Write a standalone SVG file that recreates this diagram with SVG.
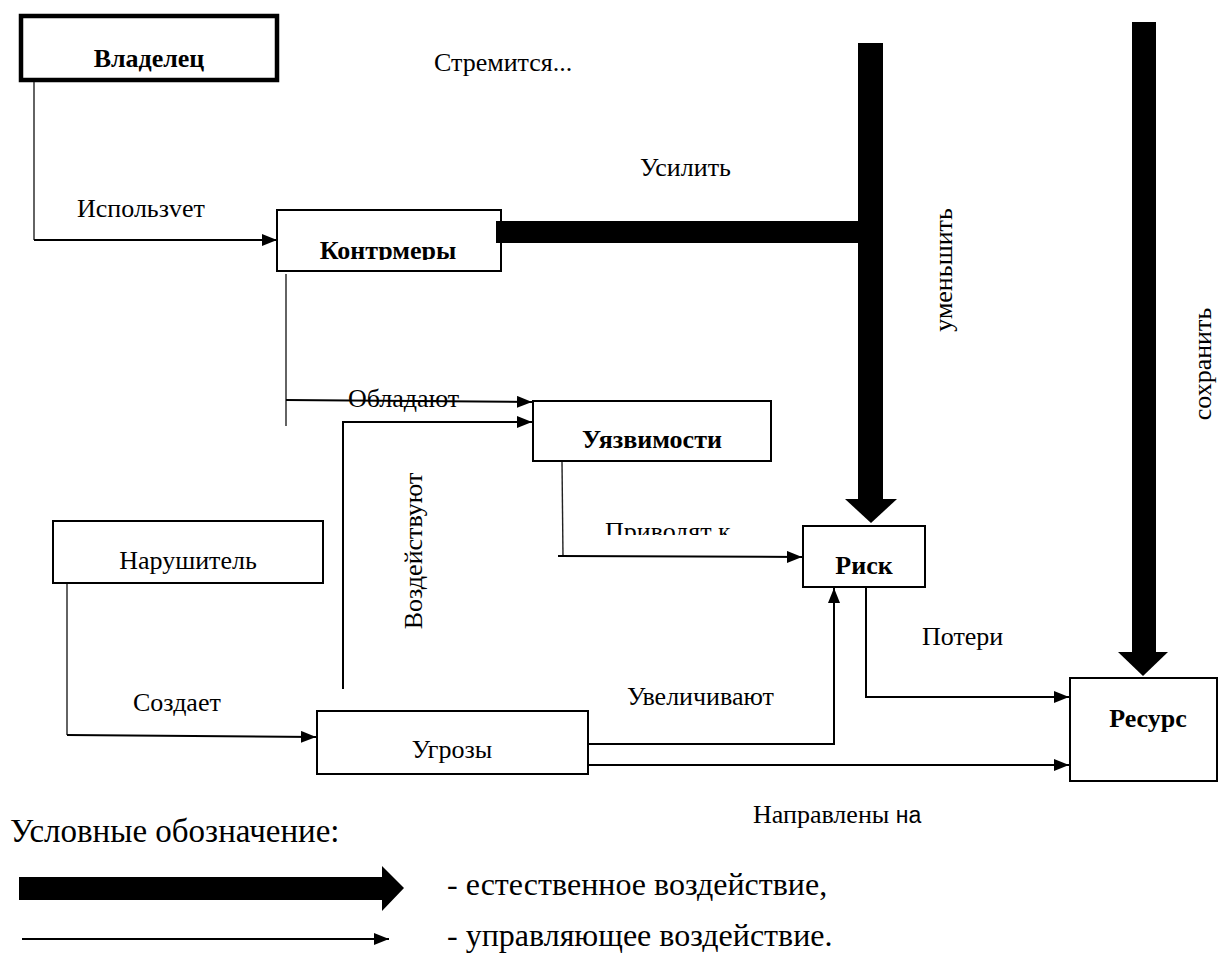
<svg xmlns="http://www.w3.org/2000/svg" width="1220" height="960" viewBox="0 0 1220 960">
<style>
  text { font-family: "Liberation Serif", "Times New Roman", serif; fill: #000; }
  .lbl { font-size: 26px; }
  .bold { font-size: 26px; font-weight: bold; }
  .leg { font-size: 32px; }
  .box { fill: #fff; stroke: #000; stroke-width: 2; }
  .ln { fill: none; stroke: #000; stroke-width: 2; }
  .thin { fill: none; stroke: #222; stroke-width: 1.4; }
  .thick { fill: #000; stroke: none; }
</style>
<defs>
  <marker id="ah" markerWidth="15" markerHeight="12" refX="15" refY="6" orient="auto" markerUnits="userSpaceOnUse">
    <path d="M0,0 L15,6 L0,12 z" fill="#000"/>
  </marker>
  <clipPath id="clipK"><rect x="270" y="200" width="240" height="60"/></clipPath>
  <clipPath id="clipP"><rect x="590" y="500" width="160" height="35"/></clipPath>
</defs>
<rect width="1220" height="960" fill="#fff"/>

<g id="owner">
  <rect x="21" y="16" width="256" height="64" fill="#fff" stroke="#000" stroke-width="4.5"/>
  <text class="bold" x="149" y="67" text-anchor="middle">Владелец</text>
</g>
<g id="countermeasures">
  <rect class="box" x="277" y="210" width="224" height="61"/>
  <text class="bold" x="388" y="259" text-anchor="middle" clip-path="url(#clipK)">Контрмеры</text>
</g>
<g id="vulnerabilities">
  <rect class="box" x="533" y="401" width="238" height="60"/>
  <text class="bold" x="652" y="448" text-anchor="middle">Уязвимости</text>
</g>
<g id="intruder">
  <rect class="box" x="53" y="521" width="270" height="62"/>
  <text class="lbl" x="188" y="569" text-anchor="middle">Нарушитель</text>
</g>
<g id="threats">
  <rect class="box" x="317" y="711" width="271" height="63"/>
  <text class="lbl" x="452" y="758" text-anchor="middle">Угрозы</text>
</g>
<g id="risk">
  <rect class="box" x="803" y="526" width="122" height="61"/>
  <text class="bold" x="864" y="574" text-anchor="middle">Риск</text>
</g>
<g id="resource">
  <rect class="box" x="1070" y="678" width="147" height="103"/>
  <text class="bold" x="1148" y="727" text-anchor="middle">Ресурс</text>
</g>

<g id="connectors">
  <!-- thick natural influences -->
  <rect class="thick" x="496" y="221" width="387" height="22"/>
  <rect class="thick" x="858" y="43" width="25" height="456"/>
  <polygon class="thick" points="845,499 897,499 871,523"/>
  <rect class="thick" x="1132" y="22" width="24" height="630"/>
  <polygon class="thick" points="1118,652 1168,652 1143,676"/>

  <!-- control influences -->
  <path class="thin" d="M34,82 V240"/>
  <path class="ln" d="M34,240 H277" marker-end="url(#ah)"/>
  <path class="thin" d="M286,274 V426"/>
  <path class="ln" d="M286,400 L532,402" marker-end="url(#ah)"/>
  <path class="ln" d="M343,689 V422 H532" marker-end="url(#ah)"/>
  <path class="thin" d="M562,462 L563,556"/>
  <path class="ln" d="M558,556 L802,557" marker-end="url(#ah)"/>
  <path class="thin" d="M67,584 V735"/>
  <path class="ln" d="M67,735 L316,737" marker-end="url(#ah)"/>
  <path class="ln" d="M589,744 H834 V588" marker-end="url(#ah)"/>
  <path class="ln" d="M589,765 H1069" marker-end="url(#ah)"/>
  <path class="ln" d="M866,588 V697 H1069" marker-end="url(#ah)"/>

  <!-- labels -->
  <text class="lbl" x="434" y="71">Стремится...</text>
  <text class="lbl" x="640" y="176">Усилить</text>
  <text class="lbl" x="77" y="217">Использvет</text>
  <text class="lbl" x="348" y="407">Обладают</text>
  <text class="lbl" x="605" y="540" clip-path="url(#clipP)">Приводят к</text>
  <text class="lbl" x="922" y="645">Потери</text>
  <text class="lbl" x="627" y="705">Увеличивают</text>
  <text class="lbl" x="133" y="711">Создает</text>
  <text class="lbl" x="753" y="823">Направлены <tspan style="font-family:'Liberation Sans','Noto Sans',sans-serif;font-size:23px">на</tspan></text>
  <text class="lbl" transform="translate(422,551) rotate(-90)" text-anchor="middle">Воздействуют</text>
  <text class="lbl" transform="translate(952,270) rotate(-90)" text-anchor="middle">уменьшить</text>
  <text class="lbl" transform="translate(1211,364) rotate(-90)" text-anchor="middle">сохранить</text>
</g>

<g id="legend">
  <text class="leg" x="10" y="842" style="font-size:33px">Условные обозначение:</text>
  <polygon class="thick" points="19,877 382,877 382,866 404,888 382,911 382,900 19,900"/>
  <path class="ln" d="M22,939 H389" marker-end="url(#ah)"/>
  <text class="leg" x="447" y="895">- естественное воздействие,</text>
  <text class="leg" x="447" y="946">- управляющее воздействие.</text>
</g>
</svg>
